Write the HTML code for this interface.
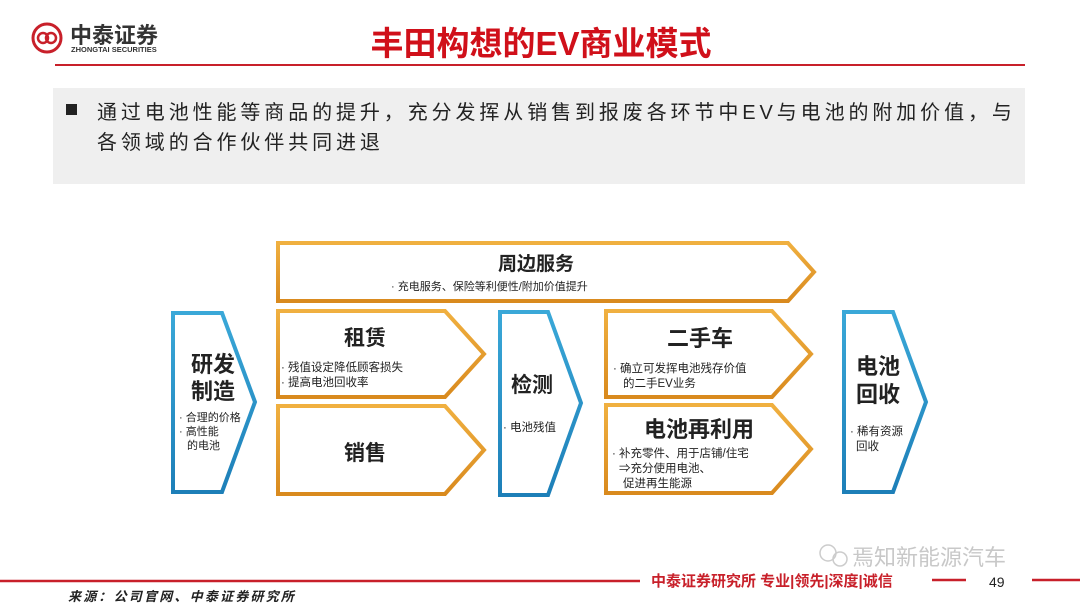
<!DOCTYPE html>
<html><head><meta charset="utf-8"><style>
body{margin:0;background:#fff;}
svg{display:block;font-family:"Liberation Sans","Noto Sans CJK SC",sans-serif;}
</style></head><body>
<svg width="1080" height="608" viewBox="0 0 1080 608" xmlns="http://www.w3.org/2000/svg">
<defs>
<linearGradient id="og" x1="0" y1="0" x2="0" y2="1"><stop offset="0" stop-color="#f0b040"/><stop offset="1" stop-color="#d98a1e"/></linearGradient>
<linearGradient id="bg" x1="0" y1="0" x2="0" y2="1"><stop offset="0" stop-color="#3aa8d8"/><stop offset="1" stop-color="#1d7fb8"/></linearGradient>
</defs>
<!-- header -->
<circle cx="47" cy="38" r="14" fill="none" stroke="#c8202a" stroke-width="3"/>
<circle cx="43" cy="38" r="5" fill="none" stroke="#c8202a" stroke-width="2.5"/>
<circle cx="51" cy="38" r="5" fill="none" stroke="#c8202a" stroke-width="2.5"/>
<text x="70" y="43" font-size="22" font-weight="bold" fill="#333">中泰证券</text>
<text x="71" y="52" font-size="7.5" font-weight="bold" fill="#333">ZHONGTAI SECURITIES</text>
<text x="541" y="55" font-size="33" font-weight="bold" fill="#d0101a" text-anchor="middle">丰田构想的EV商业模式</text>
<line x1="55" y1="65" x2="1025" y2="65" stroke="#c8202a" stroke-width="2"/>
<!-- gray box -->
<rect x="53" y="88" width="972" height="96" fill="#efefef"/>
<rect x="66" y="104" width="11" height="11" fill="#222"/>
<text x="97" y="119" font-size="20" fill="#222" letter-spacing="3.9">通过电池性能等商品的提升，充分发挥从销售到报废各环节中EV与电池的附加价值，与</text>
<text x="97" y="149" font-size="20" fill="#222" letter-spacing="3.9">各领域的合作伙伴共同进退</text>
<!-- shapes -->
<g fill="#fff" stroke-width="4" stroke-linejoin="miter">
<polygon points="278,243 788,243 814,272 788,301 278,301" stroke="url(#og)"/>
<polygon points="173,313 222,313 255,402 222,492 173,492" stroke="url(#bg)"/>
<polygon points="278,311 445,311 484,354 445,397 278,397" stroke="url(#og)"/>
<polygon points="278,406 445,406 484,450 445,494 278,494" stroke="url(#og)"/>
<polygon points="500,312 548,312 581,403 548,495 500,495" stroke="url(#bg)"/>
<polygon points="606,311 772,311 811,354 772,397 606,397" stroke="url(#og)"/>
<polygon points="606,405 772,405 811,449 772,493 606,493" stroke="url(#og)"/>
<polygon points="844,312 893,312 926,402 893,492 844,492" stroke="url(#bg)"/>
</g>
<g fill="#222">
<text x="536" y="270" font-size="19" font-weight="bold" text-anchor="middle">周边服务</text>
<text x="391" y="290" font-size="11">· 充电服务、保险等利便性/附加价值提升</text>
<text x="213" y="372" font-size="22" font-weight="bold" text-anchor="middle">研发</text>
<text x="213" y="399" font-size="22" font-weight="bold" text-anchor="middle">制造</text>
<text x="179" y="421" font-size="11">· 合理的价格</text>
<text x="179" y="435" font-size="11">· 高性能</text>
<text x="187" y="449" font-size="11">的电池</text>
<text x="365" y="345" font-size="21" font-weight="bold" text-anchor="middle">租赁</text>
<text x="281" y="371" font-size="11.5">· 残值设定降低顾客损失</text>
<text x="281" y="386" font-size="11.5">· 提高电池回收率</text>
<text x="365" y="460" font-size="21" font-weight="bold" text-anchor="middle">销售</text>
<text x="532" y="392" font-size="21" font-weight="bold" text-anchor="middle">检测</text>
<text x="503" y="431" font-size="11.5">· 电池残值</text>
<text x="700" y="346" font-size="22" font-weight="bold" text-anchor="middle">二手车</text>
<text x="613" y="372" font-size="11.5">· 确立可发挥电池残存价值</text>
<text x="623" y="387" font-size="11.5">的二手EV业务</text>
<text x="699" y="437" font-size="22" font-weight="bold" text-anchor="middle">电池再利用</text>
<text x="612" y="457" font-size="11.5">· 补充零件、用于店铺/住宅</text>
<text x="619" y="472" font-size="11.5">⇒充分使用电池、</text>
<text x="623" y="487" font-size="11.5">促进再生能源</text>
<text x="878" y="374" font-size="22" font-weight="bold" text-anchor="middle">电池</text>
<text x="878" y="402" font-size="22" font-weight="bold" text-anchor="middle">回收</text>
<text x="850" y="435" font-size="11.5">· 稀有资源</text>
<text x="856" y="450" font-size="11.5">回收</text>
</g>
<!-- footer -->
<text x="852" y="565" font-size="22" fill="#c8c8c8">焉知新能源汽车</text>
<circle cx="828" cy="553" r="8" fill="none" stroke="#ccc" stroke-width="1.5"/>
<circle cx="840" cy="559" r="7" fill="none" stroke="#ccc" stroke-width="1.5"/>
<line x1="0" y1="581" x2="640" y2="581" stroke="#c8202a" stroke-width="2.5"/>
<text x="651" y="586" font-size="15" font-weight="bold" fill="#c8202a">中泰证券研究所 专业|领先|深度|诚信</text>
<line x1="932" y1="580" x2="966" y2="580" stroke="#c8202a" stroke-width="2.5"/>
<text x="989" y="587" font-size="14" fill="#222">49</text>
<line x1="1032" y1="580" x2="1080" y2="580" stroke="#c8202a" stroke-width="2.5"/>
<text x="68" y="601" font-size="13" font-style="italic" font-weight="bold" fill="#222" letter-spacing="2.2">来源：公司官网、中泰证券研究所</text>
</svg>
</body></html>
